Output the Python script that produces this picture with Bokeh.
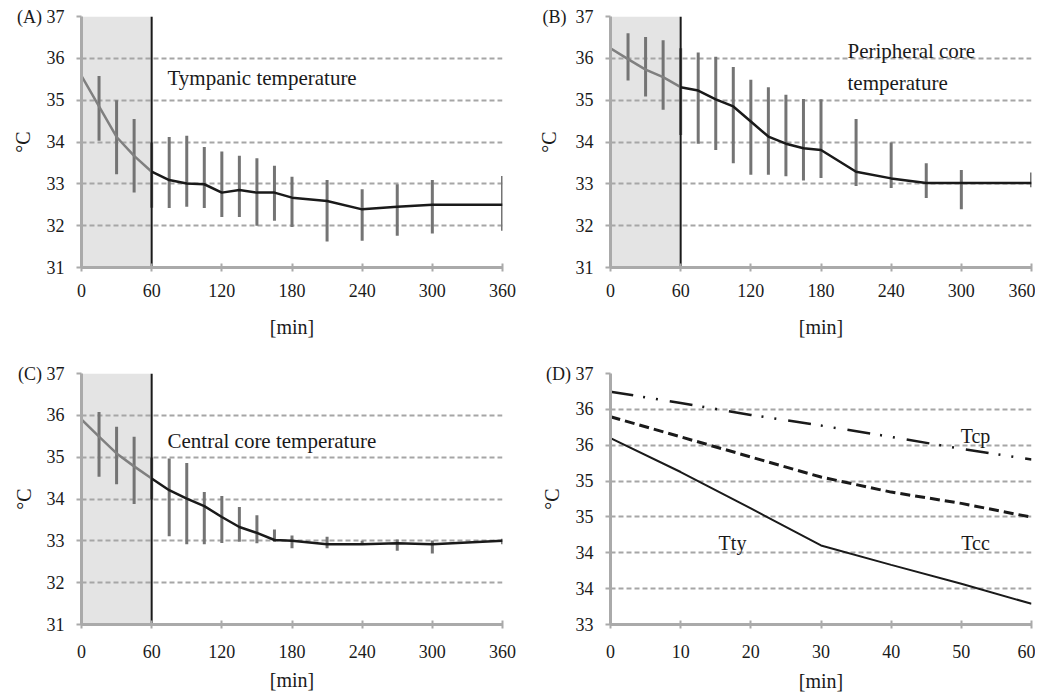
from bokeh.plotting import figure
from bokeh.layouts import gridplot
from bokeh.models import Range1d, FixedTicker, Label, NumeralTickFormatter
from bokeh.embed import file_html
from bokeh.resources import INLINE

# ---------------- data ----------------
TIME = [0, 15, 30, 45, 60, 75, 90, 105, 120, 135, 150, 165, 180, 210, 240, 270, 300, 360]

TTY_MEAN = [35.58, 34.85, 34.12, 33.67, 33.29, 33.09, 33.01, 32.99, 32.79, 32.85, 32.79, 32.79, 32.67, 32.59, 32.39, 32.45, 32.50, 32.50]
TTY_HI = [36.30, 35.58, 35.00, 34.55, 33.99, 34.12, 34.15, 33.88, 33.77, 33.67, 33.61, 33.43, 33.17, 33.09, 32.87, 32.99, 33.09, 33.19]
TTY_LO = [34.81, 34.03, 33.23, 32.79, 32.43, 32.42, 32.45, 32.42, 32.21, 32.21, 32.00, 32.12, 31.97, 31.62, 31.64, 31.76, 31.81, 31.88]

TCP_MEAN = [36.24, 35.98, 35.73, 35.55, 35.31, 35.23, 35.02, 34.85, 34.49, 34.13, 33.96, 33.85, 33.81, 33.29, 33.13, 33.02, 33.02, 33.02]
TCP_HI = [36.68, 36.60, 36.51, 36.43, 36.24, 36.14, 36.04, 35.79, 35.49, 35.31, 35.13, 35.03, 35.02, 34.55, 33.99, 33.49, 33.33, 33.27]
TCP_LO = [35.53, 35.47, 35.09, 34.77, 34.17, 33.96, 33.81, 33.49, 33.22, 33.22, 33.18, 33.08, 33.14, 32.95, 32.90, 32.66, 32.39, 32.92]

TCC_MEAN = [35.90, 35.49, 35.09, 34.78, 34.49, 34.21, 34.01, 33.83, 33.57, 33.33, 33.19, 33.02, 33.00, 32.92, 32.92, 32.94, 32.92, 33.00]
TCC_HI = [36.40, 36.08, 35.73, 35.49, 34.99, 34.97, 34.86, 34.17, 34.07, 33.81, 33.61, 33.27, 33.13, 33.10, 33.00, 33.03, 33.01, 33.05]
TCC_LO = [35.21, 34.53, 34.35, 33.88, 33.99, 33.11, 32.92, 32.92, 32.95, 32.98, 32.94, 32.98, 32.82, 32.82, 32.90, 32.76, 32.70, 32.92]

D_TIME = [0, 10, 20, 30, 40, 50, 60]
D_TTY = [35.97, 35.43, 34.85, 34.26, 33.95, 33.65, 33.33]
D_TCC = [36.31, 35.99, 35.67, 35.35, 35.11, 34.93, 34.71]
D_TCP = [36.71, 36.53, 36.34, 36.17, 35.99, 35.80, 35.63]

X_TICKS_ABC = [0, 60, 120, 180, 240, 300, 360]
Y_TICKS_ABC = [31, 32, 33, 34, 35, 36, 37]
X_TICKS_D = [0, 10, 20, 30, 40, 50, 60]
Y_TICKS_D = [33.0, 33.5714, 34.1429, 34.7143, 35.2857, 35.8571, 36.4286, 37.0]

PANEL_TAGS = {"A": "(A) 37", "B": "(B)\u00a0\u00a037", "C": "(C) 37", "D": "(D) 37"}
SHADE_END = 60  # end of the shaded first hour [min]

# ---------------- style ----------------
SERIF = "Liberation Serif"
TXT = "#1a1a1a"
FRAME_W, FRAME_H = 421, 251


def make_panel(width, height, bl, br, bt, bb, xr, yr, xticks, yticks, tag,
               x_std, xl_std):
    p = figure(width=width, height=height, x_range=Range1d(*xr), y_range=Range1d(*yr),
               output_backend="svg", toolbar_location=None,
               min_border_left=bl, min_border_right=br, min_border_top=bt, min_border_bottom=bb)
    p.outline_line_color = None
    p.background_fill_color = "white"
    p.xgrid.visible = False
    p.ygrid.ticker = FixedTicker(ticks=yticks)
    p.ygrid.grid_line_color = "#a6a6a6"
    p.ygrid.grid_line_width = 2
    p.ygrid.grid_line_dash = "5 3"

    p.xaxis.ticker = FixedTicker(ticks=xticks)
    p.yaxis.ticker = FixedTicker(ticks=yticks)
    for ax in (p.xaxis, p.yaxis):
        ax.axis_line_color = "#aaaaaa"
        ax.axis_line_width = 3
        ax.major_tick_line_color = "#aaaaaa"
        ax.major_tick_line_width = 2
        ax.minor_tick_line_color = None
        ax.major_label_text_font = SERIF
        ax.major_label_text_font_size = "18px"
        ax.major_label_text_color = TXT
        ax.axis_label_text_font = SERIF
        ax.axis_label_text_font_size = "20px"
        ax.axis_label_text_font_style = "normal"
        ax.axis_label_text_color = TXT
    p.xaxis.major_tick_in = 4
    p.xaxis.major_tick_out = 4
    p.xaxis.major_label_standoff = x_std
    p.xaxis.axis_label = "[min]"
    p.xaxis.axis_label_standoff = xl_std
    p.yaxis.major_tick_in = 0
    p.yaxis.major_tick_out = 5
    p.yaxis.major_label_standoff = 12
    p.yaxis.major_label_overrides = {yticks[-1]: PANEL_TAGS[tag]}
    p.yaxis.axis_label = "°C"
    p.yaxis.axis_label_standoff = -20
    return p


def add_text(p, geom, px, py, text, size, align="left"):
    fl, ft, xr, yr = geom
    x = xr[0] + (px - fl) / FRAME_W * (xr[1] - xr[0])
    y = yr[1] - (py - ft) / FRAME_H * (yr[1] - yr[0])
    p.add_layout(Label(x=x, y=y, text=text, text_font=SERIF, text_font_size=f"{size}px",
                       text_align=align, text_baseline="middle", text_color=TXT))


def time_panel(width, height, bl, br, bt, bb, mean, lo, hi, tag, x_std, xl_std):
    xr, yr = (0, 360), (31, 37)
    p = make_panel(width, height, bl, br, bt, bb, xr, yr, X_TICKS_ABC, Y_TICKS_ABC, tag,
                   x_std, xl_std)
    p.quad(left=[0], right=[SHADE_END], bottom=[yr[0]], top=[yr[1]],
           fill_color="#e4e4e4", line_color=None, level="image")
    p.segment(x0=TIME, y0=lo, x1=TIME, y1=hi, line_color="#747474", line_width=3)
    k = TIME.index(SHADE_END)
    p.line(TIME[:k + 1], mean[:k + 1], line_color="#808080", line_width=2.5)
    p.line(TIME[k:], mean[k:], line_color="#1a1a1a", line_width=2.5)
    p.segment(x0=[SHADE_END], y0=[yr[0]], x1=[SHADE_END], y1=[yr[1]],
              line_color="#1a1a1a", line_width=2)
    return p, xr, yr


# ---------------- panels ----------------
TOP_H, BOT_H = 358, 336

pa, xr, yr = time_panel(528, TOP_H, 81, 26, 16, 91, TTY_MEAN, TTY_LO, TTY_HI, "A", 12, 16)
add_text(pa, (81, 16, xr, yr), 167, 77, "Tympanic temperature", 21)

pb, xr, yr = time_panel(507, TOP_H, 82, 4, 16, 91, TCP_MEAN, TCP_LO, TCP_HI, "B", 12, 16)
gb = (610, 16, xr, yr)
add_text(pb, gb, 847, 50, "Peripheral core", 21)
add_text(pb, gb, 847, 82, "temperature", 21)

pc, xr, yr = time_panel(528, BOT_H, 81, 26, 15, 70, TCC_MEAN, TCC_LO, TCC_HI, "C", 16, 8)
add_text(pc, (81, 373, xr, yr), 167, 440, "Central core temperature", 21)

xr, yr = (0, 60), (33, 37)
pd_ = make_panel(507, BOT_H, 82, 4, 15, 70, xr, yr, X_TICKS_D, Y_TICKS_D, "D", 16, 9)
pd_.yaxis.formatter = NumeralTickFormatter(format="0")
pd_.line(D_TIME, D_TCP, line_color="#1a1a1a", line_width=2.5, line_dash="23 10 2 11 2 12")
pd_.line(D_TIME, D_TCC, line_color="#1a1a1a", line_width=3, line_dash="10 5")
pd_.line(D_TIME, D_TTY, line_color="#1a1a1a", line_width=2)
gd = (610, 373, xr, yr)
add_text(pd_, gd, 975, 435, "Tcp", 20, align="center")
add_text(pd_, gd, 975, 542, "Tcc", 20, align="center")
add_text(pd_, gd, 732, 542, "Tty", 20, align="center")

grid = gridplot([[pa, pb], [pc, pd_]], toolbar_location=None)

open("out.html", "w").write(file_html(grid, INLINE))
